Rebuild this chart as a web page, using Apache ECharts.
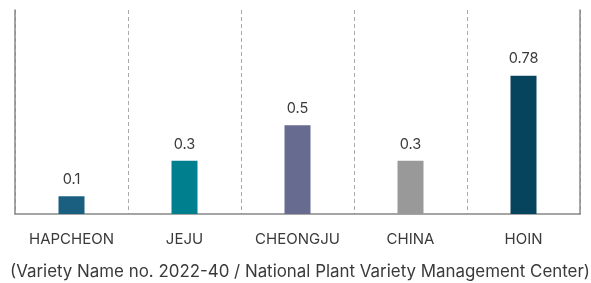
<!DOCTYPE html>
<html><head><meta charset="utf-8">
<script src="https://cdn.jsdelivr.net/npm/echarts@6/dist/echarts.min.js"></script>
<style>html,body{margin:0;padding:0;background:#fff}#c{width:591px;height:283px}</style>
</head><body><div id="c"></div>
<script>
const categories = ['HAPCHEON', 'JEJU', 'CHEONGJU', 'CHINA', 'HOIN'];
const values = [0.1, 0.3, 0.5, 0.3, 0.78];
const barColors = ['#1a5f80', '#00808f', '#676b8f', '#999999', '#06445d'];
const caption = '(Variety Name no. 2022-40 / National Plant Variety Management Center)';

const chart = echarts.init(document.getElementById('c'), null, {renderer: 'canvas'});
const font = 'Inter, "Noto Sans", sans-serif';
chart.setOption({
  animation: false,
  grid: {left: 15, right: 11, top: 10, bottom: 69, containLabel: false},
  xAxis: {
    type: 'category', data: categories,
    axisLine: {show: true, lineStyle: {color: '#888', width: 1.5}},
    axisTick: {show: false},
    axisLabel: {color: '#3a3a3a', fontSize: 15, fontFamily: font, margin: 18},
    splitLine: {show: true, lineStyle: {color: '#aaa', type: [4, 3], width: 1}}
  },
  yAxis: [{
    type: 'value', min: 0, max: 1.15,
    axisLine: {show: true, lineStyle: {color: '#888', width: 1.5}},
    axisTick: {show: false}, axisLabel: {show: false}, splitLine: {show: false}
  }, {
    type: 'value', min: 0, max: 1.15, position: 'right',
    axisLine: {show: true, lineStyle: {color: '#888', width: 1.5}},
    axisTick: {show: false}, axisLabel: {show: false}, splitLine: {show: false}
  }],
  series: [{
    type: 'bar', barWidth: 26,
    data: values.map((v, i) => ({value: v, itemStyle: {color: barColors[i]}})),
    label: {show: true, position: 'top', distance: 9, color: '#3a3a3a', fontSize: 14.5, fontFamily: font}
  }],
  graphic: [{
    type: 'text', left: 10, top: 263,
    style: {text: caption, fontSize: 16.9, fontFamily: font, fill: '#3a3a3a'}
  }]
});
</script></body></html>
